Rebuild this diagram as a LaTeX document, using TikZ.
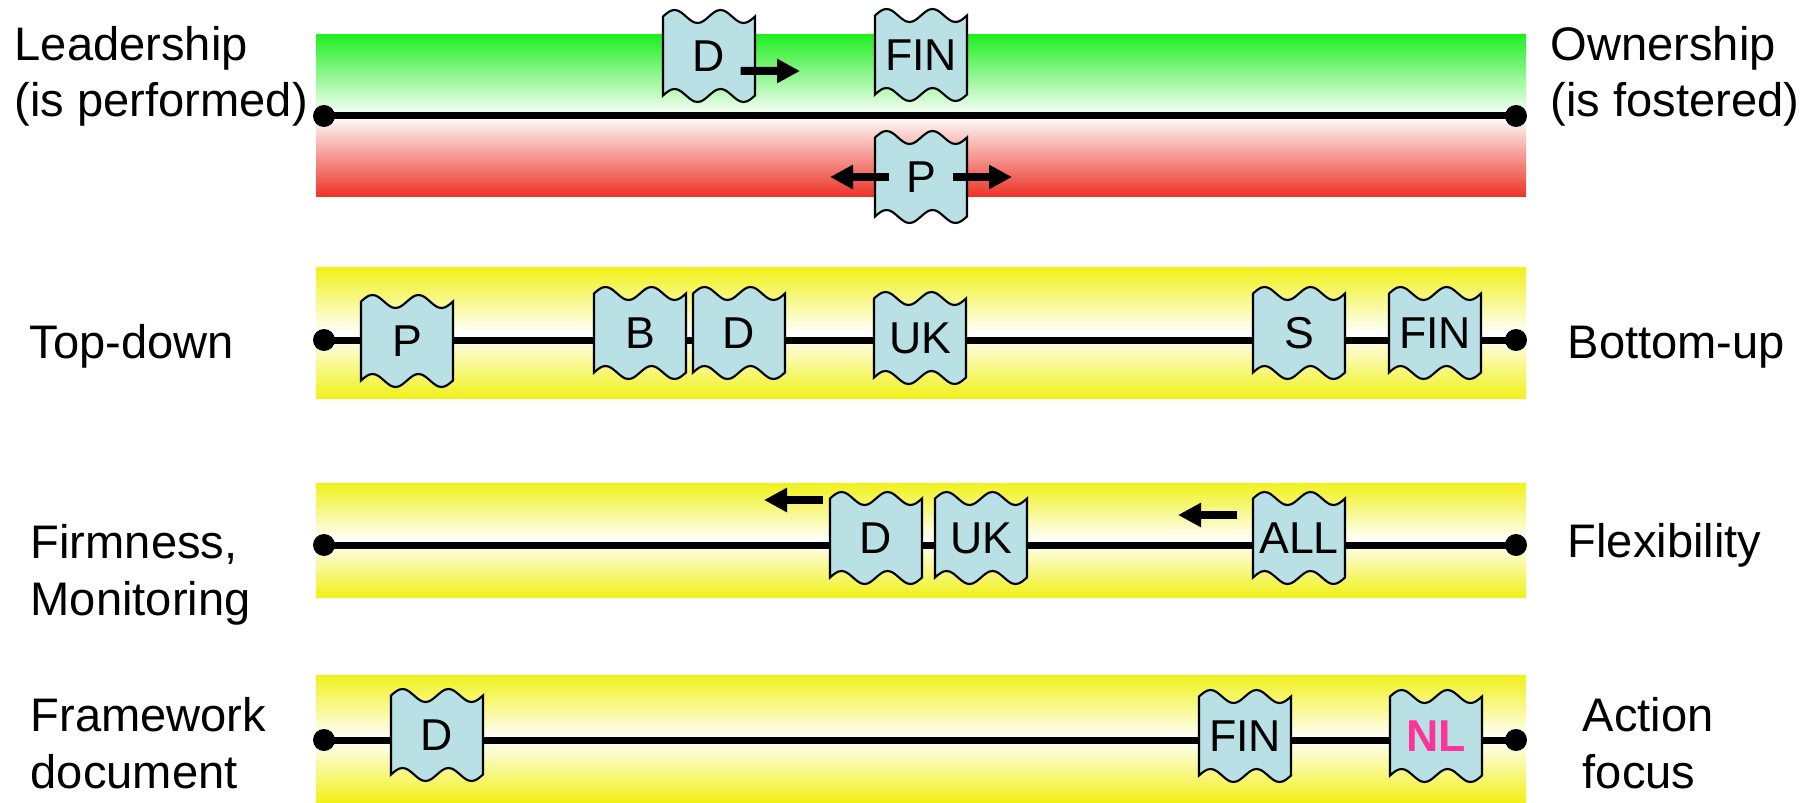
\documentclass[tikz,border=0pt]{standalone}
\usepackage{fontspec}
\setmainfont{Liberation Sans}
\usetikzlibrary{arrows.meta}

\definecolor{tapeblue}{RGB}{185,224,228}
\definecolor{bandgreen}{RGB}{34,238,34}
\definecolor{bandred}{RGB}{236,50,36}
\definecolor{bandyellow}{RGB}{241,241,26}
\definecolor{nlpink}{RGB}{255,51,153}

% punched tape box: wavy outline first, then the named node on top
\newcommand{\tape}[4][]{%
    \filldraw[tapebg,shift={(#3)}]
        (-0.46,0.395) sin (-0.345,0.46) cos (-0.23,0.395) sin (-0.115,0.33) cos (0,0.395)
        sin (0.115,0.46) cos (0.23,0.395) sin (0.345,0.33) cos (0.46,0.395)
        -- (0.46,-0.395) sin (0.345,-0.46) cos (0.23,-0.395) sin (0.115,-0.33) cos (0,-0.395)
        sin (-0.115,-0.46) cos (-0.23,-0.395) sin (-0.345,-0.33) cos (-0.46,-0.395) -- cycle;
    \node [tape,#1] (#2) at (#3) {#4};}

\begin{document}
\begin{tikzpicture}[>={Triangle[length=2.3mm,width=2.3mm]}]
    \tikzstyle{tapebg}=[fill=tapeblue,draw=black,line width=0.6pt]
    \tikzstyle{tape}=[minimum width=9.2mm,minimum height=9.2mm,inner sep=0pt,
    font=\fontsize{12.7}{15}\selectfont]
    \tikzstyle{lbl}=[inner sep=0pt,align=left,anchor=base west,
    font=\fontsize{13.4}{16.2}\selectfont]
    \tikzstyle{dot}=[circle,fill=black,inner sep=0pt,minimum size=2.2mm]
    \tikzstyle{axis}=[line width=0.7mm]
    \tikzstyle{trend}=[->,line width=0.8mm]
    \tikzstyle{yband}=[top color=bandyellow,bottom color=bandyellow,middle color=white]

    \useasboundingbox (0,0) rectangle (18.16,8.02);

    \shade[top color=bandgreen,bottom color=white] (3.16,7.67) rectangle (15.26,6.86);
    \shade[top color=white,bottom color=bandred] (3.16,6.86) rectangle (15.26,6.05);
    \shade[yband] (3.16,5.34) rectangle (15.26,4.04);
    \shade[yband] (3.16,3.19) rectangle (15.26,2.05);
    \shade[yband] (3.16,1.27) rectangle (15.26,0);

    \foreach \n/\y in {1/6.86,2/4.62,3/2.57,4/0.62} {
        \node [dot] (l\n) at (3.24,\y) {};
        \node [dot] (r\n) at (15.16,\y) {};
        \draw [axis] (l\n.center) -- (r\n.center);
    }

    % base of a two-line label is its second line
    \node [lbl] (lead)  at (0.14,6.85)  {Leadership\\(is performed)};
    \node [lbl] (own)   at (15.50,6.85) {Ownership\\(is fostered)};
    \node [lbl] (top)   at (0.29,4.44)  {Top-down};
    \node [lbl] (bot)   at (15.67,4.44) {Bottom-up};
    \node [lbl] (firm)  at (0.30,1.87)  {Firmness,\\Monitoring};
    \node [lbl] (flex)  at (15.67,2.45) {Flexibility};
    \node [lbl] (frame) at (0.30,0.14)  {Framework\\document};
    \node [lbl] (act)   at (15.82,0.14) {Action\\focus};

    \tape{d1}{7.09,7.46}{D}
    \tape{fin1}{9.21,7.47}{FIN}
    \tape{p1}{9.21,6.25}{P}

    \tape{p2}{4.07,4.61}{P}
    \tape{b2}{6.40,4.69}{B}
    \tape{d2}{7.39,4.69}{D}
    \tape{uk2}{9.20,4.64}{UK}
    \tape{s2}{12.99,4.69}{S}
    \tape{fin2}{14.35,4.69}{FIN}

    \tape{d3}{8.76,2.64}{D}
    \tape{uk3}{9.81,2.64}{UK}
    \tape{all3}{12.99,2.64}{ALL}

    \tape{d4}{4.37,0.67}{D}
    \tape{fin4}{12.45,0.66}{FIN}
    \tape[font=\fontsize{12.7}{15}\selectfont\bfseries,text=nlpink]{nl4}{14.36,0.66}{NL}

    \coordinate (d1to) at (8.00,7.31);
    \coordinate (p1left) at (8.30,6.25);
    \coordinate (p1right) at (10.12,6.25);
    \coordinate (d3to) at (7.64,3.02);
    \coordinate (all3to) at (11.78,2.87);

    \draw [trend] ([shift={(-0.15,-0.15)}]d1.east) -- (d1to);
    \draw [trend] ([xshift=1.5mm]p1.west) -- (p1left);
    \draw [trend] ([xshift=-1.5mm]p1.east) -- (p1right);
    \draw [trend] ([shift={(-0.06,0.38)}]d3.west) -- (d3to);
    \draw [trend] ([shift={(-0.15,0.23)}]all3.west) -- (all3to);
\end{tikzpicture}
\end{document}
